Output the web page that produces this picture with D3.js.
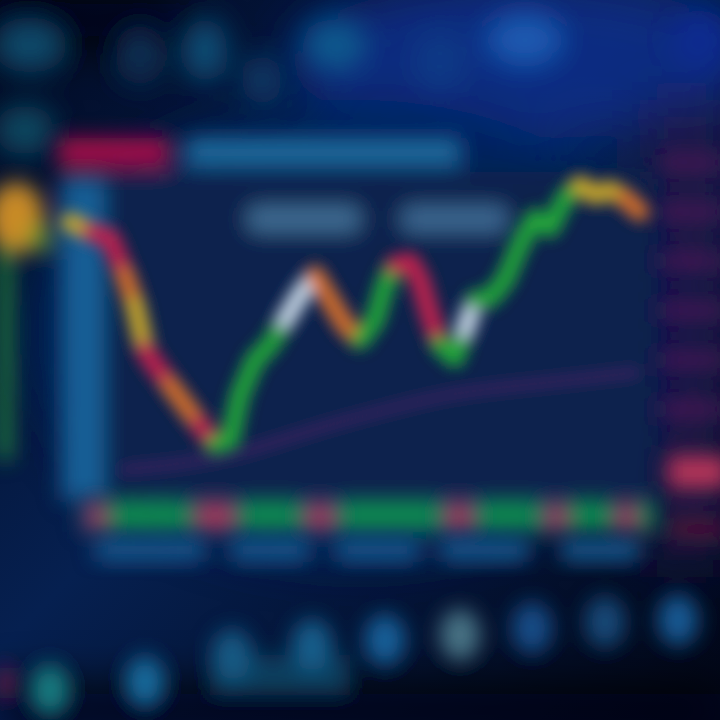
<!DOCTYPE html>
<html><head><meta charset="utf-8">
<script src="https://cdn.jsdelivr.net/npm/d3@7"></script>
<style>html,body{margin:0;padding:0;background:#04163f;}svg{display:block;}</style>
</head><body>
<script>
// ---- data ----
const sessionTime = [0,4,8,11,13,15,17,20,23,26,29,32,34,37,40,43,46,49,52,55,58,61,63,65,68,70,72,74,77,79,81,84,87,90,93,96,99,102,105,108,111,114];
const closePrice  = [185.5,182.1,180.0,167.2,156.9,141.4,136.2,129.3,122.4,115.5,108.6,110.3,125.9,137.9,143.1,151.7,160.3,167.2,158.6,150.0,144.8,151.7,163.8,170.7,171.7,165.5,153.4,143.1,138.6,148.3,158.6,159.3,165.5,177.6,186.9,183.4,193.8,198.3,194.8,196.6,193.8,189.0];
const moveKind    = ["hold","hold","down","down","warn","hold","down","down","warn","warn","down","up","up","up","up","up","peak","peak","warn","warn","warn","up","up","up","down","down","down","down","up","up","peak","up","up","up","up","up","up","up","hold","hold","hold","warn"];
const maTime  = [10,32,52,76,100,114];
const maValue = [100,105.2,115.5,125.9,131,133.8];
const volStart = [4,8,25.6,34,47.6,54,75.6,81.6,95.6,100,109.6,114];
const volEnd   = [7,24,32.4,46,52.4,74,80,94,99,108,113,117];
const volKind  = ["down","up","down","up","down","up","down","up","down","up","down","up"];
const volValue = [26,30,28,30,26,30,28,30,26,30,26,28];
const priceTicks = [206,189,172,155,138,121];
const tagPrice = 99;

const kindColor = {up:"#22a83a", down:"#c4214e", warn:"#d8702a", hold:"#cba82c", peak:"#c8d8e6"};

const W = 720, H = 720;
const svg = d3.select("body").append("svg").attr("width", W).attr("height", H);
const defs = svg.append("defs");

function blur(id, s){ defs.append("filter").attr("id", id).attr("x","-50%").attr("y","-50%").attr("width","200%").attr("height","200%")
  .append("feGaussianBlur").attr("stdDeviation", s); }
blur("b3",3); blur("b7",7); blur("b10",10); blur("b14",14); blur("b25",25);

const root = svg.append("g").attr("filter","url(#b3)");

// background gradients
const bg = defs.append("linearGradient").attr("id","bg").attr("x1","0").attr("y1","0").attr("x2","1").attr("y2","1");
bg.append("stop").attr("offset","0").attr("stop-color","#020a22");
bg.append("stop").attr("offset","0.45").attr("stop-color","#062050");
bg.append("stop").attr("offset","1").attr("stop-color","#020616");
svg.insert("rect","g").attr("width",W).attr("height",H).attr("fill","url(#bg)");

const glow = root.append("g").attr("filter","url(#b25)");
glow.append("ellipse").attr("cx",520).attr("cy",60).attr("rx",230).attr("ry",80).attr("fill","#0b2e8a").attr("opacity",0.85);
glow.append("ellipse").attr("cx",360).attr("cy",330).attr("rx",330).attr("ry",230).attr("fill","#06245a").attr("opacity",0.9);
glow.append("rect").attr("x",0).attr("y",0).attr("width",180).attr("height",40).attr("fill","#01040c");
glow.append("rect").attr("x",0).attr("y",690).attr("width",720).attr("height",40).attr("fill","#010410");
glow.append("rect").attr("x",640).attr("y",100).attr("width",90).attr("height",460).attr("fill","#1c1448").attr("opacity",0.85);

// top blurred blobs
const topBlobs = root.append("g").attr("filter","url(#b14)");
[[30,45,38,28,"#0a4a6a"],[25,130,30,25,"#0a4a62"],[140,55,25,30,"#0a2f52"],[205,50,22,32,"#0c5078"],[262,80,20,25,"#0a3a66"],
 [335,45,32,26,"#0d5a8e"],[440,60,28,30,"#0c3a86"],[525,40,40,28,"#1a5ab0"],[700,40,30,30,"#0a2a90"]]
 .forEach(d=>topBlobs.append("ellipse").attr("cx",d[0]).attr("cy",d[1]).attr("rx",d[2]).attr("ry",d[3]).attr("fill",d[4]));

// panel
const panel = root.append("g").attr("filter","url(#b10)");
panel.append("rect").attr("x",60).attr("y",172).attr("width",595).attr("height",330).attr("fill","#07214e");
panel.append("rect").attr("x",62).attr("y",180).attr("width",42).attr("height",320).attr("fill","#145e96");
panel.append("rect").attr("x",58).attr("y",138).attr("width",112).attr("height",28).attr("rx",6).attr("fill","#a5104a");
panel.append("rect").attr("x",186).attr("y",138).attr("width",275).attr("height",28).attr("rx",6).attr("fill","#1b6a9c");
panel.append("rect").attr("x",248).attr("y",206).attr("width",112).attr("height",26).attr("rx",8).attr("fill","#3d6a92");
panel.append("rect").attr("x",402).attr("y",206).attr("width",105).attr("height",26).attr("rx",8).attr("fill","#3a6690");
panel.append("ellipse").attr("cx",16).attr("cy",218).attr("rx",28).attr("ry",36).attr("fill","#c88a26");
panel.append("ellipse").attr("cx",40).attr("cy",238).attr("rx",12).attr("ry",16).attr("fill","#6aa830").attr("opacity",0.7);
panel.append("rect").attr("x",0).attr("y",245).attr("width",10).attr("height",215).attr("fill","#2aa83a");
panel.append("rect").attr("x",0).attr("y",668).attr("width",12).attr("height",30).attr("fill","#8a1a50");

// scales
const x = d3.scaleLinear().domain([0,115]).range([70,645]);
const y = d3.scaleLinear().domain([100,200]).range([470,180]);

// price tags on right
const tags = root.append("g").attr("filter","url(#b10)");
tags.selectAll("rect.t").data(priceTicks).join("rect").attr("class","t")
  .attr("x",660).attr("y",d=>y(d)-9).attr("width",64).attr("height",18).attr("fill","#4a1a55").attr("opacity",0.85);
tags.append("rect").attr("x",668).attr("y",y(tagPrice)-17).attr("width",60).attr("height",32).attr("fill","#b8345a");
tags.append("rect").attr("x",670).attr("y",y(tagPrice)+45).attr("width",55).attr("height",22).attr("fill","#4a1438");

// moving average
const line = d3.line().x(d=>x(d[0])).y(d=>y(d[1])).curve(d3.curveMonotoneX);
root.append("path").attr("d", line(d3.zip(maTime, maValue))).attr("fill","none")
  .attr("stroke","#6a2a78").attr("stroke-width",7).attr("opacity",0.7).attr("filter","url(#b7)");

// price path segments
const lines = root.append("g").attr("filter","url(#b7)");
const pts = d3.zip(sessionTime, closePrice);
for (let i = 1; i < pts.length; i++) {
  lines.append("line").attr("x1",x(pts[i-1][0])).attr("y1",y(pts[i-1][1])).attr("x2",x(pts[i][0])).attr("y2",y(pts[i][1]))
    .attr("stroke",kindColor[moveKind[i]]).attr("stroke-width",18).attr("stroke-linecap","round");
}

// volume strip
const vy = d3.scaleLinear().domain([0,30]).range([0,30]);
const vol = root.append("g").attr("filter","url(#b10)");
vol.append("rect").attr("x",x(0)+10).attr("y",498).attr("width",x(117)-x(0)-10).attr("height",34).attr("fill","#0d4a6a");
vol.selectAll("rect.v").data(d3.range(volStart.length)).join("rect").attr("class","v")
  .attr("x",i=>x(volStart[i])).attr("width",i=>x(volEnd[i])-x(volStart[i]))
  .attr("y",i=>530-vy(volValue[i])).attr("height",i=>vy(volValue[i]))
  .attr("fill",i=>volKind[i]==="up" ? "#0e8a50" : "#a03858");

// labels below volume
const lab = root.append("g").attr("filter","url(#b10)");
[[95,110],[230,80],[335,85],[440,90],[560,80]].forEach(d=>
  lab.append("rect").attr("x",d[0]).attr("y",538).attr("width",d[1]).attr("height",24).attr("rx",8).attr("fill","#14558a"));

// bottom circles
const bot = root.append("g").attr("filter","url(#b10)");
bot.append("rect").attr("x",210).attr("y",655).attr("width",140).attr("height",40).attr("fill","#0f4a6a").attr("opacity",0.8);
[[50,690,"#127a80"],[145,682,"#166a9c"],[232,655,"#165a84"],[312,645,"#165f8c"],[385,640,"#17609a"],[460,635,"#4a7486"],[532,628,"#174e88"],[605,622,"#174878"],[678,620,"#175a94"]]
 .forEach(d=>bot.append("ellipse").attr("cx",d[0]).attr("cy",d[1]).attr("rx",20).attr("ry",26).attr("fill",d[2]));
</script>
</body></html>
